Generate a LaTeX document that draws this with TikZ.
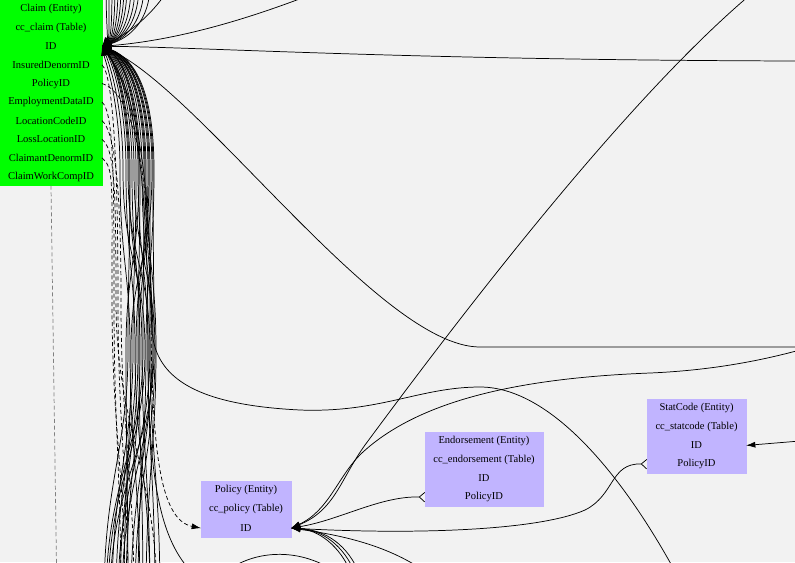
\documentclass[tikz,border=0pt]{standalone}
\usepackage{fontspec}
\setmainfont{Liberation Serif}
\usetikzlibrary{arrows.meta,positioning}
\definecolor{bg}{RGB}{242,242,242}
\definecolor{grn}{RGB}{0,255,0}
\definecolor{lav}{RGB}{193,180,255}

\begin{document}
\begin{tikzpicture}[x=.75pt,y=-.75pt,
  every node/.style={inner sep=0pt,align=center,font=\fontsize{7.9}{9}\selectfont},%
  gr/.style={fill=grn,draw=grn,line width=.3pt,minimum width=76.2pt,minimum height=13.35pt},%
  lv/.style={fill=lav,draw=lav,line width=.3pt,minimum height=13.4pt},%
  po/.style={lv,minimum width=67.2pt,minimum height=13.6pt},%
  en/.style={lv,minimum width=88.2pt},%
  st/.style={lv,minimum width=73.95pt},%
  e/.style={line width=.55pt},%
  d/.style={e,dash pattern=on 3pt off 2pt},%
  ar/.style={-{Latex[length=7pt,width=4.5pt]}},%
  ra/.style={{Latex[length=7pt,width=4.5pt]}-},%
  pc/.style={e,{Latex[length=7pt,width=4.5pt]}-{Straight Barb[reversed,length=4pt,width=7pt]}},%
  node distance=.3pt
  ]
  \fill [bg] (0,0) rectangle (795,562);
  \clip (0,0) rectangle (795,562);

  % Claim
  \node (cl1) [gr] at (51,9.1) {Claim (Entity)};
  \node (cl2) [gr,below=of cl1] {cc\_claim (Table)};
  \node (clid) [gr,below=of cl2] {ID};
  \node (clins) [gr,below=of clid] {InsuredDenormID};
  \node (clpol) [gr,below=of clins] {PolicyID};
  \node (clemp) [gr,below=of clpol] {EmploymentDataID};
  \node (clloc) [gr,below=of clemp] {LocationCodeID};
  \node (cllos) [gr,below=of clloc] {LossLocationID};
  \node (clcla) [gr,below=of cllos] {ClaimantDenormID};
  \node (clwc) [gr,below=of clcla] {ClaimWorkCompID};

  % Policy
  \node (po1) [po] at (246,490.25) {Policy (Entity)};
  \node (po2) [po,below=of po1] {cc\_policy (Table)};
  \node (poid) [po,below=of po2] {ID};

  % Endorsement
  \node (en1) [en] at (484,441.1) {Endorsement (Entity)};
  \node (en2) [en,below=of en1] {cc\_endorsement (Table)};
  \node (enid) [en,below=of en2] {ID};
  \node (enpol) [en,below=of enid] {PolicyID};

  % StatCode
  \node (st1) [st] at (696.5,408.1) {StatCode (Entity)};
  \node (st2) [st,below=of st1] {cc\_statcode (Table)};
  \node (stid) [st,below=of st2] {ID};
  \node (stpol) [st,below=of stid] {PolicyID};

  % ends outside the crop
  \coordinate (r1) at (800,61);
  \coordinate (r2) at (800,347);
  \coordinate (r3) at (800,350);
  \coordinate (r4) at (800,441);
  \coordinate (t1) at (750,-5);
  \coordinate (t2) at (310,-5);
  \coordinate (t3) at (168,-10);
  \coordinate (s1) at (690,600);
  \coordinate (s2) at (200,580);
  \coordinate (s3) at (430,575);
  \coordinate (a1) at (222,575);
  \coordinate (a2) at (340,575);
  \coordinate (w1) at (57,600);

  % bundle down from Claim ID
  \foreach \a/\m/\f [count=\i] in {120/130/140,123/145/108,126/135/150,128/150/118,
    130/128/104,132/140/126,134/155/135,136/133/112,138/148/155,140/138/120,142/152/131,
    144/143/106,146/156/146,148/136/116,150/150/160,152/131/124,154/146/138,153/154/110,
    139/126/128,129/142/150,145/153/122,149/139/143} {
    \coordinate (b\i) at (\f,600);
    \draw [e,ra] (clid.east) .. controls ({\a-15},60) and (\a,100) .. (\a,170)
      .. controls (\a,260) and (\m,270) .. (\m,350)
      .. controls (\m,450) and (\f,480) .. (b\i);
  }
  % bundle up from Claim ID
  \foreach \u [count=\i] in {106,109,112,115,118,121,124,127,131,135,139,144,150} {
    \coordinate (u\i) at (\u,-15);
    \draw [e,ra] (clid.east) .. controls ({(\u+110)/2},38) and (\u,20) .. (u\i);
  }
  % dashed keys
  \foreach \r/\a/\f [count=\i] in {clins/118/128,clemp/114/121,clloc/121/134,cllos/116/157,clcla/112/125} {
    \coordinate (d\i) at (\f,600);
    \draw [d] (\r.east) .. controls +(12,10) and (\a,180) .. (\a,300)
      .. controls (\a,430) and (\f,470) .. (d\i);
  }
  \draw [d,ar] (clpol.east) .. controls +(30,10) and (150,160) .. (151,320)
    .. controls (152,450) and (160,520) .. (poid.west);
  \draw [d,gray] (clwc.south) -- (w1);

  \draw [e,ra] (clid.east) .. controls (200,47) and (400,60) .. (r1);
  \draw [e,ra] (clid.east) .. controls (200,90) and (380,347) .. (480,347) -- (r2);
  \draw [e,ra] (clid.east) .. controls (180,40) and (250,18) .. (t2);
  \draw [e,ra] (clid.east) .. controls (135,30) and (155,10) .. (t3);
  \draw [e,ra] (clid.east) .. controls (150,110) and (150,250) .. (152,330)
    .. controls (155,380) and (200,405) .. (300,410)
    .. controls (380,413) and (420,387) .. (480,387)
    .. controls (560,387) and (640,500) .. (s1);
  \draw [e,ra] (clid.east) .. controls (140,100) and (148,200) .. (148,350)
    .. controls (148,500) and (165,550) .. (s2);

  % Policy ID
  \draw [e,ra] (poid.east) .. controls (335,510) and (340,480) .. (365,445)
    .. controls (450,330) and (620,105) .. (t1);
  \draw [e,ra] (poid.east) .. controls (330,510) and (338,475) .. (363,452)
    .. controls (420,400) and (520,378) .. (650,373)
    .. controls (720,370) and (770,358) .. (r3);
  \draw [pc] (poid.east) .. controls (340,520) and (380,496) .. (enpol.west);
  \draw [pc] (poid.east) .. controls (420,535) and (540,530) .. (585,510)
    .. controls (615,495) and (610,463) .. (stpol.west);
  \draw [e,ra] (poid.east) .. controls (340,535) and (390,545) .. (s3);
  \foreach \k [count=\i] in {0,4,8} {
    \coordinate (p\i) at ({352+\k},575);
    \draw [e,ra] (poid.east) .. controls ({318+\k},530) and ({340+\k},545) .. (p\i);
  }
  \draw [e] (a1) .. controls (250,550) and (300,545) .. (a2);

  % StatCode ID
  \draw [e,ra] (stid.east) -- (r4);
\end{tikzpicture}
\end{document}
